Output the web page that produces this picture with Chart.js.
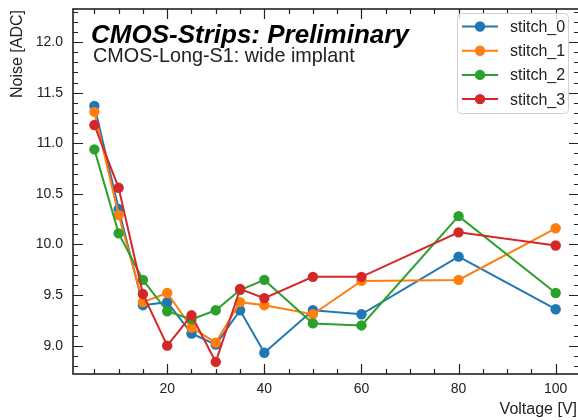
<!DOCTYPE html>
<html>
<head>
<meta charset="utf-8">
<script src="https://cdn.jsdelivr.net/npm/chart.js@4.4.0/dist/chart.umd.min.js"></script>
<style>
  html, body { margin: 0; padding: 0; background: #fff; overflow: hidden; }
  #wrap { width: 580px; height: 420px; }
</style>
</head>
<body>
<div id="wrap"><canvas id="noiseChart" width="580" height="420"></canvas></div>
<script>
// bias voltage scan, noise per stitch
const voltages = [5, 10, 15, 20, 25, 30, 35, 40, 50, 60, 80, 100];
const stitch0 = [11.37, 10.35, 9.40, 9.43, 9.12, 9.01, 9.35, 8.93, 9.35, 9.31, 9.88, 9.36];
const stitch1 = [11.31, 10.29, 9.43, 9.52, 9.18, 9.03, 9.43, 9.40, 9.31, 9.64, 9.65, 10.16];
const stitch2 = [10.94, 10.11, 9.65, 9.34, 9.26, 9.35, 9.55, 9.65, 9.22, 9.20, 10.28, 9.52];
const stitch3 = [11.18, 10.56, 9.51, 9.00, 9.30, 8.84, 9.56, 9.47, 9.68, 9.68, 10.12, 9.99];

const seriesNames = ['stitch_0', 'stitch_1', 'stitch_2', 'stitch_3'];
const seriesValues = [stitch0, stitch1, stitch2, stitch3];
const seriesColors = ['#1f77b4', '#ff7f0e', '#2ca02c', '#d62728'];

const xTicks = [20, 40, 60, 80, 100];
const yTicks = [9.0, 9.5, 10.0, 10.5, 11.0, 11.5, 12.0];

const FONT = '"Liberation Sans", Arial, Helvetica, sans-serif';
const INK = '#222';

// inward ticks on all four sides plus the box
const frameTicks = {
  id: 'frameTicks',
  beforeDatasetsDraw(chart) {
    const { ctx, chartArea: a, scales: { x, y } } = chart;
    ctx.save();
    ctx.strokeStyle = INK;
    ctx.lineWidth = 1.2;
    ctx.beginPath();
    const tickX = (v, len) => {
      const px = Math.round(x.getPixelForValue(v)) + 0.5;
      ctx.moveTo(px, a.bottom); ctx.lineTo(px, a.bottom - len);
      ctx.moveTo(px, a.top); ctx.lineTo(px, a.top + len);
    };
    const tickY = (v, len) => {
      const py = Math.round(y.getPixelForValue(v)) + 0.5;
      ctx.moveTo(a.left, py); ctx.lineTo(a.left + len, py);
      ctx.moveTo(a.right, py); ctx.lineTo(a.right - len, py);
    };
    for (let v = 5; v <= x.max; v += 5) tickX(v, xTicks.includes(v) ? 10 : 5);
    for (let i = Math.ceil(y.min * 10); i <= Math.floor(y.max * 10); i++) {
      tickY(i / 10, i % 5 === 0 ? 10 : 5);
    }
    ctx.stroke();
    ctx.lineWidth = 1.6;
    ctx.strokeRect(a.left, a.top, a.right - a.left, a.bottom - a.top);
    ctx.restore();
  },
  afterDraw(chart) {
    const { ctx, chartArea: a } = chart;
    ctx.save();
    ctx.fillStyle = '#000';
    ctx.textBaseline = 'alphabetic';
    ctx.textAlign = 'left';
    ctx.font = 'italic bold 26px ' + FONT;
    ctx.fillText('CMOS-Strips: Preliminary', a.left + 18, a.top + 34);
    ctx.font = '19.8px ' + FONT;
    ctx.fillStyle = INK;
    ctx.fillText('CMOS-Long-S1: wide implant', a.left + 20, a.top + 53);

    // axis titles
    ctx.font = '16px ' + FONT;
    ctx.textAlign = 'right';
    ctx.textBaseline = 'middle';
    ctx.fillText('Voltage [V]', 577, 410);
    ctx.save();
    ctx.translate(18, a.top + 1);
    ctx.rotate(-Math.PI / 2);
    ctx.fillText('Noise [ADC]', 0, 0);
    ctx.restore();

    // legend
    const bx = 457, by = 13, bw = 111, bh = 100;
    ctx.fillStyle = 'rgba(255,255,255,0.8)';
    ctx.strokeStyle = '#d0d0d0';
    ctx.lineWidth = 1;
    ctx.beginPath();
    ctx.roundRect(bx + 0.5, by + 0.5, bw, bh, 4);
    ctx.fill();
    ctx.stroke();
    ctx.textAlign = 'left';
    ctx.font = '16px ' + FONT;
    chart.data.datasets.forEach((ds, i) => {
      const cy = by + 13.5 + i * 24.2;
      ctx.strokeStyle = ds.borderColor;
      ctx.lineWidth = 2;
      ctx.beginPath();
      ctx.moveTo(462, cy); ctx.lineTo(498, cy);
      ctx.stroke();
      ctx.fillStyle = ds.backgroundColor;
      ctx.beginPath();
      ctx.arc(480, cy, 5.2, 0, Math.PI * 2);
      ctx.fill();
      ctx.fillStyle = INK;
      ctx.fillText(ds.label, 510, cy + 1);
    });
    ctx.restore();
  }
};

const datasets = seriesNames.map((name, i) => ({
  label: name,
  data: voltages.map((v, j) => ({ x: v, y: seriesValues[i][j] })),
  borderColor: seriesColors[i],
  backgroundColor: seriesColors[i],
  borderWidth: 2,
  pointRadius: 5.2,
  pointHoverRadius: 5.2,
  pointBorderWidth: 0,
  order: seriesNames.length - i
}));

// keep the plot box fixed: no extra room reserved for edge labels
const noEdgePadding = s => {
  s.paddingTop = 0; s.paddingBottom = 0;
  s.paddingLeft = 0; s.paddingRight = 0;
};

const ctx = document.getElementById('noiseChart').getContext('2d');
const noiseChart = new Chart(ctx, {
  type: 'line',
  data: { datasets: datasets },
  plugins: [frameTicks],
  options: {
    responsive: false,
    animation: false,
    devicePixelRatio: 1,
    layout: { autoPadding: false, padding: { top: 9, right: 1, left: 0, bottom: 0 } },
    plugins: { legend: { display: false }, tooltip: { enabled: false } },
    scales: {
      x: {
        type: 'linear',
        min: 0.6,
        max: 104.8,
        afterFit: s => { s.height = 46; noEdgePadding(s); },
        afterBuildTicks: s => { s.ticks = xTicks.map(v => ({ value: v })); },
        grid: { display: false, drawTicks: false },
        border: { display: false },
        ticks: { color: INK, font: { family: FONT, size: 14 }, padding: 7, maxRotation: 0 }
      },
      y: {
        type: 'linear',
        min: 8.72,
        max: 12.327,
        afterFit: s => { s.width = 73; noEdgePadding(s); },
        afterBuildTicks: s => { s.ticks = yTicks.map(v => ({ value: v })); },
        grid: { display: false, drawTicks: false },
        border: { display: false },
        ticks: {
          color: INK,
          font: { family: FONT, size: 14 },
          padding: 10,
          callback: v => v.toFixed(1)
        }
      }
    }
  }
});
</script>
</body>
</html>
